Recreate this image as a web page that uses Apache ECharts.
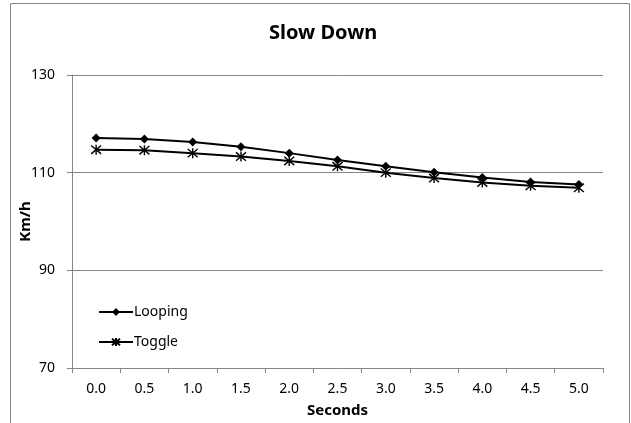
<!DOCTYPE html>
<html>
<head>
<meta charset="utf-8">
<script src="https://cdn.jsdelivr.net/npm/echarts@6/dist/echarts.min.js"></script>
<style>
html, body { margin: 0; padding: 0; background: #fff; }
#chart { width: 631px; height: 423px; }
</style>
</head>
<body>
<div id="chart"></div>
<script>
// data
var seconds = ['0.0', '0.5', '1.0', '1.5', '2.0', '2.5', '3.0', '3.5', '4.0', '4.5', '5.0'];
var looping = [117.1, 116.9, 116.3, 115.3, 114.0, 112.6, 111.3, 110.1, 109.0, 108.1, 107.6];
var toggle = [114.7, 114.6, 114.0, 113.3, 112.4, 111.3, 110.0, 108.9, 108.0, 107.3, 106.9];

var font = 'Noto Sans';
var gray = '#868686';
var starPath = 'path://M0,0L10,10M10,0L0,10M5,-1L5,11';

var chart = echarts.init(document.getElementById('chart'));

var option = {
  animation: false,
  textStyle: { fontFamily: font, color: '#000' },
  graphic: [{
    type: 'rect',
    shape: { x: 10.5, y: 3.5, width: 619, height: 440 },
    style: { fill: 'none', stroke: gray, lineWidth: 1 }
  }],
  title: {
    text: 'Slow Down',
    left: 264,
    top: 18,
    textStyle: { fontFamily: font, fontSize: 20, fontWeight: 'bold', color: '#000' }
  },
  legend: {
    orient: 'vertical',
    left: 93,
    top: 300,
    itemWidth: 34,
    itemHeight: 10,
    itemGap: 16,
    textStyle: { fontFamily: font, fontSize: 14, color: '#000', padding: [0, 0, 0, -4] },
    data: ['Looping', 'Toggle']
  },
  grid: { left: 72, right: 28, top: 75, bottom: 54 },
  xAxis: {
    type: 'category',
    data: seconds,
    boundaryGap: true,
    name: 'Seconds',
    nameLocation: 'middle',
    nameGap: 35,
    nameMoveOverlap: false,
    nameTextStyle: { fontFamily: font, fontSize: 15, fontWeight: 'bold', color: '#000' },
    axisLine: { lineStyle: { color: gray, width: 1 } },
    axisTick: { show: true, length: 5, lineStyle: { color: gray } },
    axisLabel: { fontFamily: font, fontSize: 14, color: '#000', margin: 14 },
    splitLine: { show: false }
  },
  yAxis: {
    type: 'value',
    min: 70,
    max: 130,
    interval: 20,
    name: 'Km/h',
    nameLocation: 'middle',
    nameGap: 39,
    nameMoveOverlap: false,
    nameTextStyle: { fontFamily: font, fontSize: 15, fontWeight: 'bold', color: '#000' },
    axisLine: { show: true, lineStyle: { color: gray, width: 1 } },
    axisTick: { show: true, length: 5, lineStyle: { color: gray } },
    axisLabel: { fontFamily: font, fontSize: 14, color: '#000', margin: 17 },
    splitLine: { show: true, lineStyle: { color: gray, width: 1 } }
  },
  series: [
    {
      name: 'Looping',
      type: 'line',
      data: looping,
      symbol: 'diamond',
      symbolSize: 9,
      lineStyle: { color: '#000', width: 2 },
      itemStyle: { color: '#000' }
    },
    {
      name: 'Toggle',
      type: 'line',
      data: toggle,
      symbol: starPath,
      symbolSize: 10,
      lineStyle: { color: '#000', width: 2 },
      itemStyle: { color: '#000', borderColor: '#000', borderWidth: 1.4 }
    }
  ]
};

chart.setOption(option);
</script>
</body>
</html>
